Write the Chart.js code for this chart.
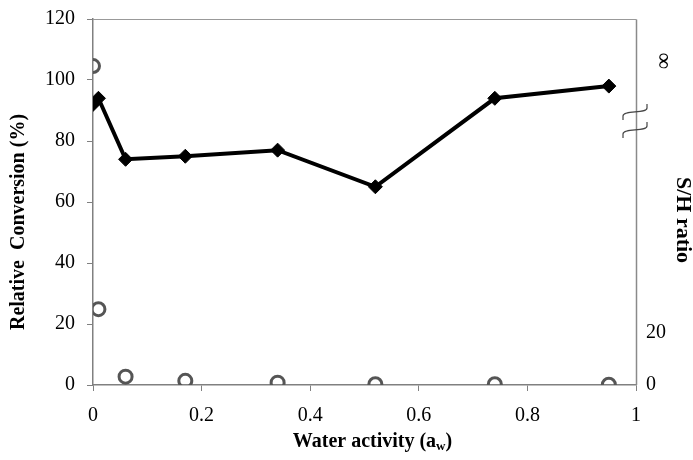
<!DOCTYPE html>
<html>
<head>
<meta charset="utf-8">
<script src="https://cdn.jsdelivr.net/npm/chart.js@4"></script>
<style>
  html, body { margin: 0; padding: 0; background: #fff; }
  #wrap { width: 693px; height: 460px; }
</style>
</head>
<body>
<div id="wrap"><canvas id="chart"></canvas></div>
<script>
// water activity of the samples
var aw = [0, 0.01, 0.06, 0.17, 0.34, 0.52, 0.74, 0.95];
// relative conversion (%), left axis
var conversion = [92, 94, 74, 75, 77, 65, 94, 98];
// S/H ratio, right axis (first one sits on the infinity mark)
var shRatio = [122, 29, 3.2, 1.6, 0.9, 0.3, 0.3, 0.1];

var leftTicks = [0, 20, 40, 60, 80, 100, 120];
var rightTicks = [0, 20];
var infTick = 124;   // where the "∞" label sits on the right axis
var breakAt = 101;   // axis break mark on the right axis

var xTitle = "Water activity (a";
var xTitleSub = "w";
var yTitle = "Relative  Conversion (%)";
var y2Title = "S/H ratio";

var serif = "'Liberation Serif', 'Times New Roman', serif";
var axisGray = "#808080";

function rotatedText(ctx, text, x, y, angle, font) {
  ctx.save();
  ctx.translate(x, y);
  ctx.rotate(angle);
  ctx.font = font;
  ctx.fillStyle = "#000";
  ctx.textAlign = "center";
  ctx.textBaseline = "middle";
  ctx.fillText(text, 0, 0);
  ctx.restore();
}

function noEdgePadding(s) {
  s.paddingTop = 0;
  s.paddingBottom = 0;
}

var extras = {
  id: "extras",
  afterDraw: function(chart) {
    var ctx = chart.ctx;
    var area = chart.chartArea;
    var y2 = chart.scales.y2;
    var rx = Math.round(area.right) + 0.5;
    var ty = Math.round(area.top) + 0.5;

    // right axis line and top frame line
    ctx.save();
    ctx.strokeStyle = "#8a8a8a";
    ctx.lineWidth = 1.5;
    ctx.beginPath();
    ctx.moveTo(rx, ty);
    ctx.lineTo(rx, area.bottom);
    ctx.stroke();
    ctx.strokeStyle = "#999999";
    ctx.lineWidth = 1.2;
    ctx.beginPath();
    ctx.moveTo(area.left, ty);
    ctx.lineTo(rx, ty);
    ctx.stroke();
    ctx.restore();

    // infinity label, turned like the axis title
    rotatedText(ctx, "\u221E", area.right + 27, y2.getPixelForValue(infTick), Math.PI / 2, "23px " + serif);

    // break mark on the right axis
    var by = y2.getPixelForValue(breakAt);
    var bx = area.right;
    ctx.save();
    ctx.strokeStyle = "#444";
    ctx.lineWidth = 1.2;
    [-9, 9].forEach(function(d) {
      var cy = by + d;
      ctx.beginPath();
      ctx.moveTo(bx - 13, cy + 8);
      ctx.lineTo(bx - 13, cy + 4);
      ctx.bezierCurveTo(bx - 13, cy - 2, bx + 11, cy + 2, bx + 11, cy - 4);
      ctx.lineTo(bx + 11, cy - 8);
      ctx.stroke();
    });
    ctx.restore();

    // axis titles
    rotatedText(ctx, yTitle, 19, 222, -Math.PI / 2, "bold 20px " + serif);
    rotatedText(ctx, y2Title, 683, 220, Math.PI / 2, "bold 22px " + serif);

    // x axis title with subscript
    ctx.save();
    ctx.fillStyle = "#000";
    ctx.textBaseline = "alphabetic";
    var big = "bold 20px " + serif;
    var small = "bold 13px " + serif;
    ctx.font = big;
    var w1 = ctx.measureText(xTitle).width;
    var w3 = ctx.measureText(")").width;
    ctx.font = small;
    var w2 = ctx.measureText(xTitleSub).width;
    var x0 = (area.left + area.right) / 2 - (w1 + w2 + w3) / 2 + 8;
    var base = 447;
    ctx.font = big;
    ctx.fillText(xTitle, x0, base);
    ctx.font = small;
    ctx.fillText(xTitleSub, x0 + w1, base + 3);
    ctx.font = big;
    ctx.fillText(")", x0 + w1 + w2, base);
    ctx.restore();
  }
};

new Chart(document.getElementById("chart"), {
  type: "scatter",
  data: {
    datasets: [{
      label: "Relative conversion",
      data: aw.map(function(x, i) { return { x: x, y: conversion[i] }; }),
      yAxisID: "y",
      showLine: true,
      borderColor: "#000",
      backgroundColor: "#000",
      borderWidth: 4,
      pointStyle: "rectRot",
      pointRadius: 7,
      pointBorderWidth: 1,
      pointHoverRadius: 7
    }, {
      label: "S/H ratio",
      data: aw.map(function(x, i) { return { x: x, y: shRatio[i] }; }),
      yAxisID: "y2",
      showLine: false,
      borderColor: "#555",
      backgroundColor: "rgba(255,255,255,0)",
      pointStyle: "circle",
      pointRadius: 6.5,
      pointBorderWidth: 3,
      pointHoverRadius: 6.5
    }]
  },
  options: {
    responsive: true,
    maintainAspectRatio: false,
    animation: false,
    layout: { padding: { top: 19, left: 0, right: 0, bottom: 0 } },
    plugins: {
      legend: { display: false },
      tooltip: { enabled: false }
    },
    scales: {
      x: {
        type: "linear",
        min: 0,
        max: 1,
        ticks: {
          stepSize: 0.2,
          color: "#000",
          padding: 13,
          font: { family: serif, size: 20 },
          callback: function(v) { return String(Math.round(v * 10) / 10); }
        },
        grid: {
          drawOnChartArea: false,
          tickLength: 6,
          tickColor: axisGray
        },
        border: { color: axisGray, width: 1.5 },
        afterFit: function(s) { s.height = 75; s.paddingLeft = 0; s.paddingRight = 0; }
      },
      y: {
        position: "left",
        min: 0,
        max: 120,
        afterBuildTicks: function(s) {
          s.ticks = leftTicks.map(function(v) { return { value: v }; });
        },
        ticks: {
          color: "#000",
          padding: 12,
          font: { family: serif, size: 20 }
        },
        grid: {
          drawOnChartArea: false,
          tickColor: axisGray,
          tickLength: 6
        },
        border: { color: axisGray, width: 1.5 },
        afterFit: function(s) { s.width = 93; noEdgePadding(s); }
      },
      y2: {
        position: "right",
        min: 0,
        max: 140,
        afterBuildTicks: function(s) {
          s.ticks = rightTicks.map(function(v) { return { value: v }; });
        },
        ticks: {
          color: "#000",
          padding: 10,
          font: { family: serif, size: 20 }
        },
        grid: { drawOnChartArea: false, drawTicks: false },
        border: { display: false },
        afterFit: function(s) { s.width = 57; noEdgePadding(s); }
      }
    }
  },
  plugins: [extras]
});
</script>
</body>
</html>
